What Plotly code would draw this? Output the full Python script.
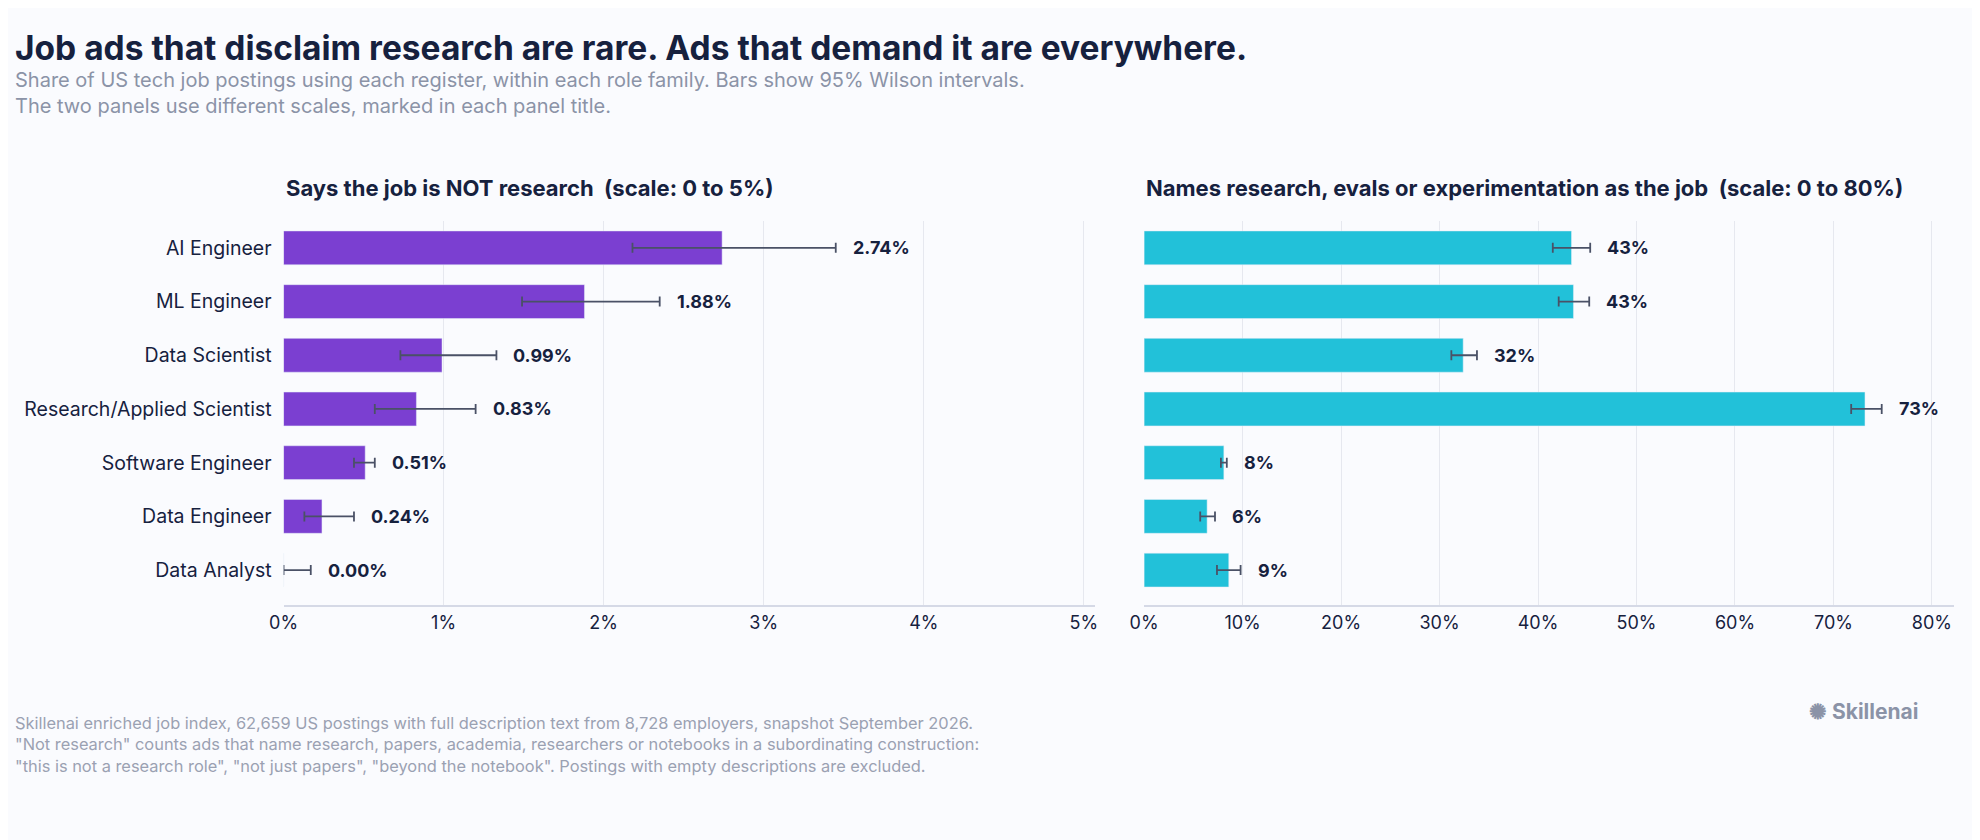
import plotly.graph_objects as go

roles = ["AI Engineer", "ML Engineer", "Data Scientist", "Research/Applied Scientist",
         "Software Engineer", "Data Engineer", "Data Analyst"]
not_research = [2.74, 1.88, 0.99, 0.83, 0.51, 0.24, 0.00]
not_lo = [2.18, 1.49, 0.73, 0.57, 0.44, 0.13, 0.00]
not_hi = [3.45, 2.35, 1.33, 1.20, 0.57, 0.44, 0.17]
names_research = [43.4, 43.6, 32.4, 73.2, 8.1, 6.4, 8.6]
names_lo = [41.5, 42.1, 31.2, 71.8, 7.8, 5.7, 7.4]
names_hi = [45.3, 45.2, 33.8, 74.9, 8.4, 7.2, 9.8]
not_labels = ["2.74%", "1.88%", "0.99%", "0.83%", "0.51%", "0.24%", "0.00%"]
names_labels = ["43%", "43%", "32%", "73%", "8%", "6%", "9%"]

FONT = "Inter"
DARK = "#16213e"
GRAY = "#8b93a7"
BG = "#fafbfe"
DX = -19 / 1980
L0, L1 = 0.1424 + DX, 0.556 + DX
R0, R1 = 0.5714, 0.984
Y0, Y1 = 0.2786 + 0.0107, 0.7357 + 0.0107
XS = -10

fig = go.Figure()
fig.add_trace(go.Bar(
    y=roles, x=not_research, orientation="h", marker_color="#7b3fd1", width=0.63,
    error_x=dict(type="data", symmetric=False,
                 array=[h - v for h, v in zip(not_hi, not_research)],
                 arrayminus=[v - l for v, l in zip(not_research, not_lo)],
                 color="#4a5166", thickness=1.8, width=5),
    xaxis="x", yaxis="y", hoverinfo="skip"))
fig.add_trace(go.Bar(
    y=roles, x=names_research, orientation="h", marker_color="#22c1d9", width=0.63,
    error_x=dict(type="data", symmetric=False,
                 array=[h - v for h, v in zip(names_hi, names_research)],
                 arrayminus=[v - l for v, l in zip(names_research, names_lo)],
                 color="#4a5166", thickness=1.8, width=5),
    xaxis="x2", yaxis="y2", hoverinfo="skip"))

ann = []
for r, h, t in zip(roles, not_hi, not_labels):
    ann.append(dict(x=h, y=r, xref="x", yref="y", text="<b>%s</b>" % t, showarrow=False,
                    xanchor="left", xshift=15, font=dict(size=18, color=DARK, family=FONT)))
for r, h, t in zip(roles, names_hi, names_labels):
    ann.append(dict(x=h, y=r, xref="x2", yref="y2", text="<b>%s</b>" % t, showarrow=False,
                    xanchor="left", xshift=15, font=dict(size=18, color=DARK, family=FONT)))

ann += [
    dict(x=0, y=1, xref="paper", yref="paper", xanchor="left", yanchor="top", xshift=XS, yshift=-18,
         text="<b>Job ads that disclaim research are rare. Ads that demand it are everywhere.</b>",
         showarrow=False, font=dict(size=33.5, color=DARK, family=FONT)),
    dict(x=0, y=1, xref="paper", yref="paper", xanchor="left", yanchor="top", xshift=XS, yshift=-58,
         align="left", showarrow=False,
         text="Share of US tech job postings using each register, within each role family. Bars show 95% Wilson intervals.<br>The two panels use different scales, marked in each panel title.",
         font=dict(size=20, color=GRAY, family=FONT)),
    dict(x=L0, y=1, xref="paper", yref="paper", xanchor="left", yanchor="top", yshift=-165,
         text="<b>Says the job is NOT research  (scale: 0 to 5%)</b>", showarrow=False,
         font=dict(size=22, color=DARK, family=FONT)),
    dict(x=R0, y=1, xref="paper", yref="paper", xanchor="left", yanchor="top", yshift=-165,
         text="<b>Names research, evals or experimentation as the job  (scale: 0 to 80%)</b>",
         showarrow=False, font=dict(size=22, color=DARK, family=FONT)),
    dict(x=0, y=1, xref="paper", yref="paper", xanchor="left", yanchor="top", xshift=XS, yshift=-703,
         align="left", showarrow=False,
         text="Skillenai enriched job index, 62,659 US postings with full description text from 8,728 employers, snapshot September 2026.<br>\"Not research\" counts ads that name research, papers, academia, researchers or notebooks in a subordinating construction:<br>\"this is not a research role\", \"not just papers\", \"beyond the notebook\". Postings with empty descriptions are excluded.",
         font=dict(size=16.4, color="#9aa1b2", family=FONT)),
    dict(x=0.9185, y=1, xref="paper", yref="paper", xanchor="right", yanchor="top", xshift=95, yshift=-689,
         text="<b>✺ Skillenai</b>", showarrow=False,
         font=dict(size=21, color="#8b93a7", family=FONT)),
]

axis_common = dict(showgrid=True, gridcolor="#e6e8ef", gridwidth=1, zeroline=False,
                   showline=True, linecolor="#d5d9e6", linewidth=2, ticks="",
                   tickfont=dict(size=18, color=DARK, family=FONT), ticksuffix="%")
fig.update_layout(
    width=1980, height=840, paper_bgcolor=BG, plot_bgcolor=BG, showlegend=False,
    margin=dict(l=0, r=0, t=0, b=0),
    xaxis=dict(domain=[L0, L1], range=[0, 5.07], dtick=1, anchor="y", **axis_common),
    xaxis2=dict(domain=[R0, R1], range=[0, 82.2], dtick=10, anchor="y2", **axis_common),
    yaxis=dict(domain=[Y0, Y1], range=[6.65, -0.5], anchor="x", showgrid=False,
               ticks="", ticksuffix="  ", tickfont=dict(size=19.5, color=DARK, family=FONT)),
    yaxis2=dict(domain=[Y0, Y1], range=[6.65, -0.5], anchor="x2", showgrid=False,
                showticklabels=False),
    annotations=ann,
)
fig.write_html("out.html")
